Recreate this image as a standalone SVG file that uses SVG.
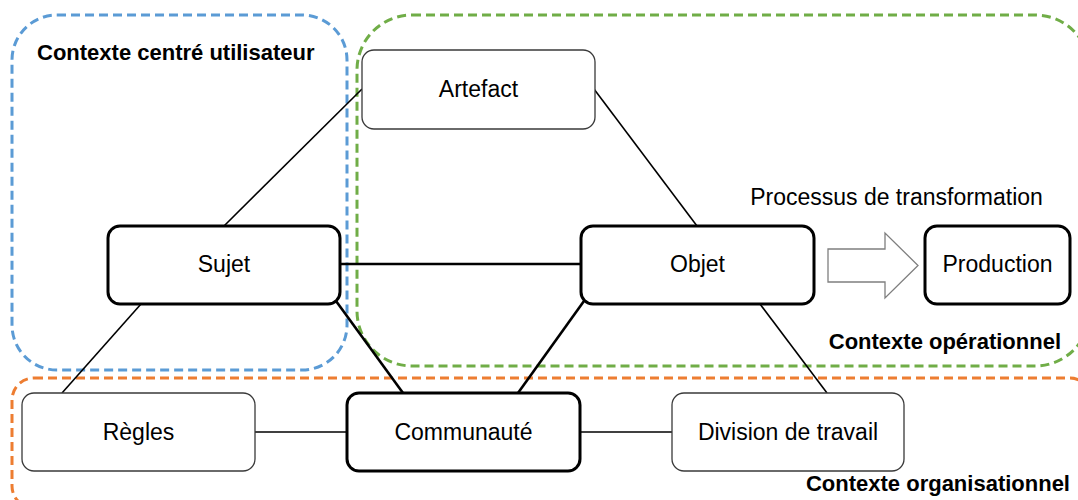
<svg xmlns="http://www.w3.org/2000/svg" width="1078" height="500" viewBox="0 0 1078 500">
<style>
.ctx{fill:none;stroke-width:3;stroke-dasharray:9 5}
.thin{fill:#fff;stroke:#3a3a3a;stroke-width:1.3}
.thick{fill:#fff;stroke:#000;stroke-width:3}
.lbl{font-family:"Liberation Sans",Arial,sans-serif;font-size:23px;fill:#000;text-anchor:middle}
.hd{font-family:"Liberation Sans",Arial,sans-serif;font-size:22px;font-weight:bold;fill:#000}
.c1{stroke:#000;stroke-width:1.6;fill:none}
.c2{stroke:#000;stroke-width:2.6;fill:none}
</style>
<rect width="1078" height="500" fill="#fff"/>
<g id="contexts">
<rect id="ctx-user" class="ctx" x="12" y="15" width="335" height="355" rx="45" stroke="#5B9BD5"/>
<rect id="ctx-op" class="ctx" x="357" y="15" width="733" height="351" rx="55" stroke="#70AD47"/>
<rect id="ctx-org" class="ctx" x="12" y="378" width="1080" height="130" rx="22" stroke="#ED7D31"/>
</g>
<g id="connectors">
<line class="c1" x1="362" y1="89" x2="224" y2="226"/>
<line class="c1" x1="594" y1="89" x2="697" y2="226"/>
<line class="c2" x1="340" y1="264" x2="581" y2="264"/>
<line class="c1" x1="141" y1="304" x2="62" y2="393"/>
<line class="c2" x1="336" y1="301" x2="403" y2="393"/>
<line class="c2" x1="584" y1="301" x2="518" y2="393"/>
<line class="c1" x1="760" y1="304" x2="827" y2="393"/>
<line class="c1" x1="255" y1="432" x2="347" y2="432"/>
<line class="c1" x1="580" y1="432" x2="672" y2="432"/>
</g>
<g id="artefact"><rect class="thin" x="362" y="50" width="233" height="79" rx="12"/><text class="lbl" x="478.5" y="97">Artefact</text></g>
<g id="sujet"><rect class="thick" x="108" y="226" width="232" height="78" rx="12"/><text class="lbl" x="224" y="272">Sujet</text></g>
<g id="objet"><rect class="thick" x="581" y="226" width="233" height="78" rx="12"/><text class="lbl" x="697.5" y="272">Objet</text></g>
<g id="production"><rect class="thick" x="925" y="226" width="145" height="78" rx="12"/><text class="lbl" x="997.5" y="272">Production</text></g>
<g id="regles"><rect class="thin" x="22" y="393" width="233" height="78" rx="12"/><text class="lbl" x="138.5" y="440">Règles</text></g>
<g id="communaute"><rect class="thick" x="347" y="393" width="233" height="78" rx="12"/><text class="lbl" x="463.5" y="440">Communauté</text></g>
<g id="division"><rect class="thin" x="672" y="393" width="232" height="78" rx="12"/><text class="lbl" x="788" y="440">Division de travail</text></g>
<g id="transform-arrow"><path d="M828 249 H885 V233 L918 265.5 L885 298 V282 H828 Z" fill="#fff" stroke="#7f7f7f" stroke-width="1.3"/></g>
<g id="labels">
<text class="hd" x="37" y="60">Contexte centré utilisateur</text>
<text class="hd" x="1061" y="349" text-anchor="end">Contexte opérationnel</text>
<text class="hd" x="1070" y="491" text-anchor="end">Contexte organisationnel</text>
<text class="lbl" x="896.5" y="205">Processus de transformation</text>
</g>
</svg>
